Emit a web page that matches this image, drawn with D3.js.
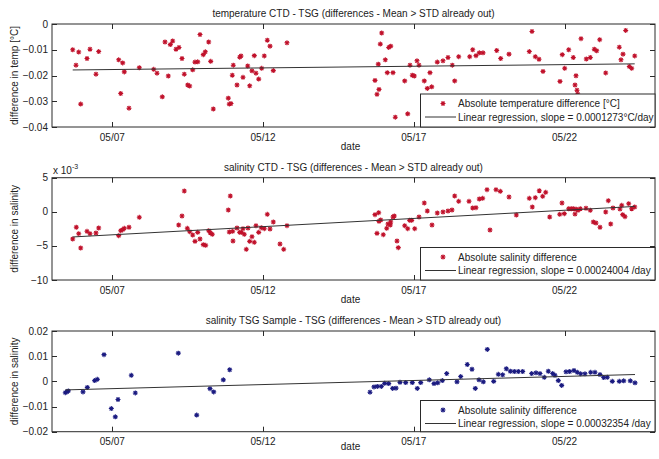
<!DOCTYPE html>
<html>
<head>
<meta charset="utf-8">
<script src="https://cdn.jsdelivr.net/npm/d3@7"></script>
<style>
  html, body { margin: 0; padding: 0; background: #fff; }
  svg { display: block; font-family: "Liberation Sans", Arial, Helvetica, sans-serif; }
  text { fill: #222; font-size: 10px; }
</style>
</head>
<body>
<svg id="fig" width="659" height="459"></svg>
<script>
// ---- data: day of May (fractional) and differences ----
const xTickDays = [7, 12, 17, 22];

// temperature CTD - TSG
const tempDays = [5.687,5.796,5.886,5.952,6.161,6.260,6.459,6.549,7.212,7.279,7.345,7.398,7.554,7.896,8.373,8.483,8.658,8.748,8.857,8.924,9.003,9.113,9.212,9.312,9.388,9.501,9.567,9.667,9.743,9.833,9.909,10.018,10.085,10.197,10.264,10.350,10.847,10.881,10.937,10.980,11.013,11.136,11.226,11.269,11.335,11.491,11.557,11.633,11.710,11.766,11.856,11.955,12.041,12.141,12.231,12.340,12.794,15.713,15.822,15.846,15.779,15.889,15.935,16.055,16.121,16.168,16.234,16.310,16.386,16.698,16.798,16.874,16.950,17.017,17.106,17.173,17.348,17.448,17.537,17.594,17.779,17.968,18.134,18.277,18.356,18.489,18.854,18.954,19.063,19.172,19.295,19.750,19.882,20.158,20.831,20.920,21.030,21.153,21.285,21.849,21.925,22.005,22.138,22.290,22.380,22.347,22.413,22.436,22.546,22.721,22.854,22.987,23.066,23.166,23.365,23.816,23.872,23.939,24.028,24.148,24.227,24.327];
const tempDiff = [-0.0100,-0.0160,-0.0109,-0.0311,-0.0134,-0.0098,-0.0195,-0.0107,-0.0139,-0.0270,-0.0151,-0.0186,-0.0327,-0.0170,-0.0176,-0.0191,-0.0283,-0.0070,-0.0202,-0.0080,-0.0066,-0.0098,-0.0091,-0.0134,-0.0195,-0.0237,-0.0241,-0.0178,-0.0148,-0.0147,-0.0041,-0.0119,-0.0108,-0.0070,-0.0145,-0.0330,-0.0288,-0.0311,-0.0309,-0.0199,-0.0160,-0.0237,-0.0129,-0.0124,-0.0207,-0.0163,-0.0240,-0.0182,-0.0123,-0.0191,-0.0214,-0.0172,-0.0124,-0.0063,-0.0086,-0.0181,-0.0073,-0.0219,-0.0156,-0.0254,-0.0273,-0.0078,-0.0035,-0.0139,-0.0189,-0.0091,-0.0086,-0.0189,-0.0362,-0.0221,-0.0349,-0.0160,-0.0199,-0.0202,-0.0143,-0.0160,-0.0221,-0.0250,-0.0189,-0.0244,-0.0148,-0.0143,-0.0130,-0.0160,-0.0221,-0.0127,-0.0127,-0.0100,-0.0123,-0.0112,-0.0112,-0.0103,-0.0134,-0.0117,-0.0107,-0.0029,-0.0127,-0.0137,-0.0184,-0.0223,-0.0119,-0.0172,-0.0100,-0.0130,-0.0201,-0.0237,-0.0257,-0.0272,-0.0057,-0.0136,-0.0130,-0.0098,-0.0104,-0.0061,-0.0190,-0.0090,-0.0139,-0.0117,-0.0025,-0.0165,-0.0172,-0.0124];
const tempSlope = 0.0001273;      // per day
const tempStart = -0.01785;       // fit value at first sample

// salinity CTD - TSG
const salDays = [5.687,5.806,5.886,5.952,6.161,6.260,6.459,6.549,7.212,7.279,7.345,7.398,7.554,7.896,9.202,9.312,9.388,9.488,9.567,9.667,9.743,9.833,9.909,10.018,10.098,10.197,10.250,10.317,10.847,10.914,10.881,10.993,11.003,11.136,11.226,11.279,11.335,11.378,11.444,11.501,11.557,11.633,11.710,11.766,11.856,11.942,12.041,12.141,12.231,12.340,12.562,12.685,12.794,15.713,15.836,15.846,15.779,15.902,15.988,16.101,16.144,16.221,16.234,16.310,16.353,16.443,16.486,16.698,16.798,16.864,16.930,17.030,17.173,17.348,17.448,17.604,17.779,17.968,18.134,18.267,18.356,18.489,18.831,18.954,19.063,19.172,19.285,19.428,19.527,19.726,19.869,20.158,20.400,20.831,20.930,21.030,21.162,21.375,21.275,21.507,21.839,21.915,21.992,22.138,22.224,22.303,22.347,22.390,22.446,22.522,22.711,22.854,22.954,23.043,23.176,23.365,23.451,23.531,23.607,23.839,23.896,23.929,24.005,24.128,24.227,24.327];
const salDiff = [-3.99,-2.27,-3.21,-5.31,-2.86,-3.21,-3.11,-2.38,-3.50,-2.77,-2.62,-2.42,-2.27,-0.81,-1.94,-0.62,3.05,-2.42,-2.92,-3.40,-4.33,-3.01,-3.99,-4.82,-4.91,-2.77,-3.07,-3.30,0.26,2.32,-2.96,-2.86,-4.28,-2.38,-3.01,-3.01,-2.48,-3.30,-5.50,-2.38,-4.33,-3.65,-4.47,-2.04,-3.01,-2.33,-2.48,-0.37,-2.52,-1.50,-4.72,-5.50,-2.04,-0.42,-0.13,-1.40,-3.16,-1.20,-3.36,-2.42,-1.79,-1.94,-1.50,-0.76,-0.62,-4.28,-5.26,-2.04,-2.48,-1.25,-1.25,-2.48,-0.76,1.29,0.12,-1.94,-0.18,-0.03,0.12,0.26,2.32,1.54,1.54,0.56,0.60,1.88,1.98,3.24,-2.67,3.24,3.00,2.17,-0.47,1.98,0.70,2.07,3.09,2.86,2.27,-0.76,-0.37,1.29,-0.27,0.45,0.45,0.45,-0.33,0.37,0.22,0.45,0.52,0.22,-1.50,-1.64,-2.27,-0.03,1.63,-1.79,0.56,0.41,0.95,-0.42,-0.72,1.19,0.45,0.70].map(v => v * 1e-3);
const salSlope = 0.00024004;
const salStart = -0.00369;

// salinity TSG sample - TSG
const tsgDays = [5.441,5.498,5.541,6.028,6.171,6.416,6.502,6.725,6.967,7.100,7.189,7.630,7.763,9.189,9.799,10.240,10.363,10.682,10.894,15.547,15.680,15.789,15.922,16.035,16.168,16.300,16.410,16.542,16.731,16.950,17.116,17.229,17.514,17.670,17.793,17.945,18.091,18.433,18.556,18.774,18.930,19.040,19.163,19.305,19.438,19.650,19.803,19.948,20.068,20.201,20.333,20.466,20.612,20.910,21.053,21.186,21.328,21.461,21.607,21.683,21.793,21.905,22.048,22.171,22.313,22.423,22.535,22.678,22.867,23.010,23.176,23.298,23.418,23.584,23.816,23.962,24.181,24.337];
const tsgDiff = [-0.0045,-0.0041,-0.0038,-0.0042,-0.0024,0.0003,0.0008,0.0106,-0.0108,-0.0141,-0.0072,0.0024,-0.0046,0.0112,-0.0134,-0.0029,-0.0042,0.0006,0.0046,-0.0043,-0.0022,-0.0020,-0.0020,-0.0008,-0.0009,-0.0028,-0.0027,-0.0004,-0.0005,-0.0005,-0.0028,-0.0005,0.0006,-0.0009,-0.0006,0.0003,0.0031,-0.0002,0.0019,0.0067,0.0048,-0.0028,0.0006,-0.0002,0.0127,0.0000,0.0028,0.0026,0.0050,0.0040,0.0039,0.0039,0.0039,0.0031,0.0034,0.0031,0.0016,0.0040,0.0031,0.0024,0.0003,-0.0016,0.0038,0.0039,0.0043,0.0036,0.0030,0.0030,0.0036,0.0036,0.0027,0.0015,0.0016,0.0000,0.0000,0.0002,0.0002,-0.0006];
const tsgSlope = 0.00032354;
const tsgStart = -0.0034;

// ---- figure ----
const svg = d3.select("#fig");
const MAY0 = Date.UTC(2010, 4, 0);
const toDate = d => new Date(MAY0 + d * 864e5);

const x = d3.scaleUtc()
  .domain([toDate(5), toDate(25)])
  .range([52, 655]);

// MATLAB-style asterisk marker
const asterisk = {
  draw(ctx, size) {
    const r = Math.sqrt(size) / 2, k = r * 0.7071;
    ctx.moveTo(-r, 0); ctx.lineTo(r, 0);
    ctx.moveTo(0, -r); ctx.lineTo(0, r);
    ctx.moveTo(-k, -k); ctx.lineTo(k, k);
    ctx.moveTo(-k, k); ctx.lineTo(k, -k);
  }
};
const marker = d3.symbol().type(asterisk).size(25);

const panels = [
  { top: 24, bottom: 127, days: tempDays, vals: tempDiff, slope: tempSlope, start: tempStart,
    domain: [-0.04, 0], ticks: [0, -0.01, -0.02, -0.03, -0.04], fmt: d => d === 0 ? "0" : d3.format(".2f")(d).replace(/^(-?)0\./, "$10."),
    color: "#c0102a", title: "temperature CTD - TSG (differences - Mean > STD already out)",
    ylabel: "difference in temp [°C]", legendTop: 94, dateDy: 23,
    leg1: "Absolute temperature difference [°C]", leg2: "Linear regression, slope = 0.0001273°C/day" },
  { top: 177.7, bottom: 280, days: salDays, vals: salDiff, slope: salSlope, start: salStart,
    domain: [-0.010, 0.005], ticks: [0.005, 0, -0.005, -0.010], fmt: d => d3.format("d")(Math.round(d * 1000)),
    color: "#c0102a", title: "salinity CTD - TSG (differences - Mean > STD already out)", exponent: true,
    ylabel: "difference in salinity", legendTop: 247.5, dateDy: 23,
    leg1: "Absolute salinity difference", leg2: "Linear regression, slope = 0.00024004 /day" },
  { top: 331, bottom: 431.7, days: tsgDays, vals: tsgDiff, slope: tsgSlope, start: tsgStart,
    domain: [-0.02, 0.02], ticks: [0.02, 0.01, 0, -0.01, -0.02], fmt: d => d === 0 ? "0" : d3.format(".2f")(d),
    color: "#1a1a80", title: "salinity TSG Sample - TSG (differences - Mean > STD already out)",
    ylabel: "difference in salinity", legendTop: 400.5, dateDy: 18.5,
    leg1: "Absolute salinity difference", leg2: "Linear regression, slope = 0.00032354 /day" }
];

const axisColor = "#2a2a2a";
const tickLen = 5;

panels.forEach(p => {
  const y = d3.scaleLinear().domain(p.domain).range([p.bottom, p.top]);
  const g = svg.append("g");
  const [x0, x1] = x.range();
  const xTicks = xTickDays.map(toDate);

  // plot box
  g.append("rect").attr("x", x0).attr("y", p.top)
    .attr("width", x1 - x0).attr("height", p.bottom - p.top)
    .attr("fill", "#fff").attr("stroke", axisColor).attr("stroke-width", 1);

  // inward ticks on all four sides
  const tk = g.append("g").attr("stroke", axisColor).attr("stroke-width", 1);
  xTicks.forEach(t => {
    const xx = Math.round(x(t)) + 0.5;
    tk.append("line").attr("x1", xx).attr("x2", xx).attr("y1", p.bottom).attr("y2", p.bottom - tickLen);
    tk.append("line").attr("x1", xx).attr("x2", xx).attr("y1", p.top).attr("y2", p.top + tickLen);
  });
  p.ticks.forEach(t => {
    const yy = Math.round(y(t)) + 0.5;
    tk.append("line").attr("x1", x0).attr("x2", x0 + tickLen).attr("y1", yy).attr("y2", yy);
    tk.append("line").attr("x1", x1).attr("x2", x1 - tickLen).attr("y1", yy).attr("y2", yy);
  });

  // tick labels
  g.selectAll(".xl").data(xTicks).join("text")
    .attr("x", d => x(d)).attr("y", p.bottom + 13.5)
    .attr("text-anchor", "middle")
    .text(d3.utcFormat("%m/%d"));
  g.selectAll(".yl").data(p.ticks).join("text")
    .attr("x", x0 - 4).attr("y", d => y(d)).attr("dy", "0.35em")
    .attr("text-anchor", "end")
    .text(p.fmt);

  if (p.exponent) {
    const ex = g.append("text").attr("x", x0 + 1).attr("y", p.top - 4);
    ex.append("tspan").text("x 10");
    ex.append("tspan").attr("dy", -5).style("font-size", "7px").text("-3");
  }

  // title, axis labels
  g.append("text").attr("x", (x0 + x1) / 2).attr("y", p.top - 7)
    .attr("text-anchor", "middle").text(p.title);
  g.append("text").attr("x", (x0 + x1) / 2 - 3).attr("y", p.bottom + p.dateDy)
    .attr("text-anchor", "middle").text("date");
  g.append("text")
    .attr("transform", `translate(18,${(p.top + p.bottom) / 2}) rotate(-90)`)
    .attr("text-anchor", "middle").text(p.ylabel);

  // samples
  const pts = p.days.map((d, i) => ({ t: toDate(d), v: p.vals[i] }));
  g.append("g").selectAll("path").data(pts).join("path")
    .attr("transform", d => `translate(${x(d.t)},${y(d.v)})`)
    .attr("d", marker)
    .attr("fill", "none").attr("stroke", p.color).attr("stroke-width", 1.1);

  // linear regression
  const dFirst = d3.min(p.days), dLast = d3.max(p.days);
  const fit = [dFirst, dLast].map(d => ({ t: toDate(d), v: p.start + p.slope * (d - dFirst) }));
  g.append("path").datum(fit)
    .attr("d", d3.line().x(d => x(d.t)).y(d => y(d.v)))
    .attr("fill", "none").attr("stroke", "#333").attr("stroke-width", 1);

  // legend
  const lx = 420.5, lTop = p.legendTop, lBot = p.bottom;
  const lg = g.append("g");
  lg.append("rect").attr("x", lx).attr("y", lTop).attr("width", x1 - lx).attr("height", lBot - lTop)
    .attr("fill", "#fff").attr("stroke", axisColor).attr("stroke-width", 1);
  const r1 = lTop + 9.5, r2 = lTop + 23;
  lg.append("path").attr("transform", `translate(443,${r1})`).attr("d", marker)
    .attr("fill", "none").attr("stroke", p.color).attr("stroke-width", 1.1);
  lg.append("text").attr("x", 458).attr("y", r1).attr("dy", "0.35em").text(p.leg1);
  lg.append("line").attr("x1", 425).attr("x2", 456).attr("y1", r2).attr("y2", r2)
    .attr("stroke", "#333").attr("stroke-width", 1);
  lg.append("text").attr("x", 458).attr("y", r2).attr("dy", "0.35em").text(p.leg2);
});
</script>
</body>
</html>
